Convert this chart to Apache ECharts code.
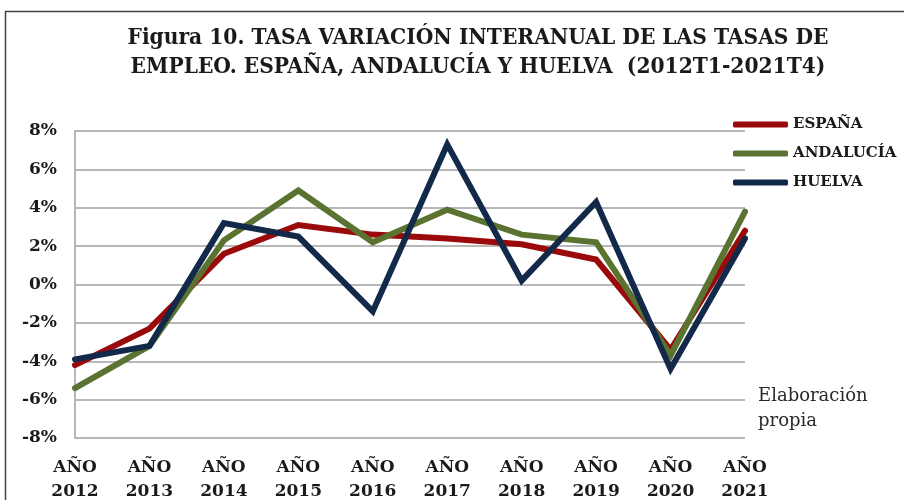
<!DOCTYPE html>
<html lang="es">
  <head>
    <meta charset="UTF-8" />
    <title>Figura 10</title>
    <script src="https://cdn.jsdelivr.net/npm/echarts@6/dist/echarts.min.js"></script>
    <style>
      body { margin: 0; background: #fff; }
      #chart { width: 904px; height: 500px; }
    </style>
  </head>
  <body>
    <div id="chart"></div>
  </body>
</html>
<script>
  // datos (tasa de variación interanual, %)
  const years = ["2012", "2013", "2014", "2015", "2016", "2017", "2018", "2019", "2020", "2021"];
  const espana = [-4.2, -2.3, 1.6, 3.1, 2.6, 2.4, 2.1, 1.3, -3.4, 2.8];
  const andalucia = [-5.4, -3.2, 2.3, 4.9, 2.2, 3.9, 2.6, 2.2, -3.7, 3.8];
  const huelva = [-3.9, -3.2, 3.2, 2.5, -1.4, 7.3, 0.2, 4.3, -4.4, 2.4];
  const seriesNames = ["ESPAÑA", "ANDALUCÍA", "HUELVA"];
  const colors = ["#9b0a0a", "#5b7330", "#13294a"];

  const chart = echarts.init(document.getElementById("chart"));
  const serif = "DejaVu Serif";

  const mkLine = (name, data, color) => ({
    name: name,
    type: "line",
    data: data,
    symbol: "none",
    lineStyle: { color: color, width: 6, join: "miter", cap: "round" },
    itemStyle: { color: color },
  });

  chart.setOption({
    animation: false,
    title: {
      text: "Figura 10. TASA VARIACIÓN INTERANUAL DE LAS TASAS DE\nEMPLEO. ESPAÑA, ANDALUCÍA Y HUELVA  (2012T1-2021T4)",
      left: 473,
      textAlign: "center",
      top: 19,
      textStyle: {
        fontFamily: "'DejaVu Serif Condensed', 'Liberation Serif'",
        fontWeight: "bold",
        fontSize: 22.5,
        lineHeight: 29,
        color: "#1a1a1a",
      },
    },
    legend: {
      orient: "vertical",
      left: 733,
      top: 117,
      padding: 0,
      itemWidth: 55,
      itemHeight: 6,
      itemGap: 14,
      icon: "roundRect",
      data: seriesNames,
      textStyle: { fontFamily: serif, fontWeight: "bold", fontSize: 15, color: "#1a1a1a" },
    },
    grid: { left: 75, right: 159, top: 131, bottom: 62, outerBoundsMode: "none" },
    xAxis: {
      type: "category",
      data: years,
      boundaryGap: false,
      axisLine: { show: false },
      axisTick: { show: false },
      axisLabel: {
        formatter: (v) => "AÑO\n" + v,
        fontFamily: serif,
        fontWeight: "bold",
        fontSize: 17,
        lineHeight: 24,
        color: "#1a1a1a",
        margin: 18,
      },
    },
    yAxis: {
      type: "value",
      min: -8,
      max: 8,
      interval: 2,
      axisLine: { show: true, lineStyle: { color: "#a0a0a0", width: 1.5 } },
      axisTick: { show: false },
      splitLine: { lineStyle: { color: "#a0a0a0", width: 1.5 } },
      axisLabel: {
        formatter: "{value}%",
        fontFamily: serif,
        fontWeight: "bold",
        fontSize: 17,
        color: "#1a1a1a",
        margin: 18,
        padding: [2, 0, 0, 0],
      },
    },
    graphic: [
      {
        type: "rect",
        shape: { x: 5.5, y: 11.5, width: 920, height: 520 },
        style: { fill: null, stroke: "#444", lineWidth: 1.5 },
      },
      {
        type: "text",
        left: 758,
        top: 384,
        style: {
          text: "Elaboración\npropia",
          font: "18px 'DejaVu Serif'",
          lineHeight: 25,
          fill: "#2a2a2a",
        },
      },
    ],
    series: [
      mkLine(seriesNames[0], espana, colors[0]),
      mkLine(seriesNames[1], andalucia, colors[1]),
      mkLine(seriesNames[2], huelva, colors[2]),
    ],
  });
</script>
